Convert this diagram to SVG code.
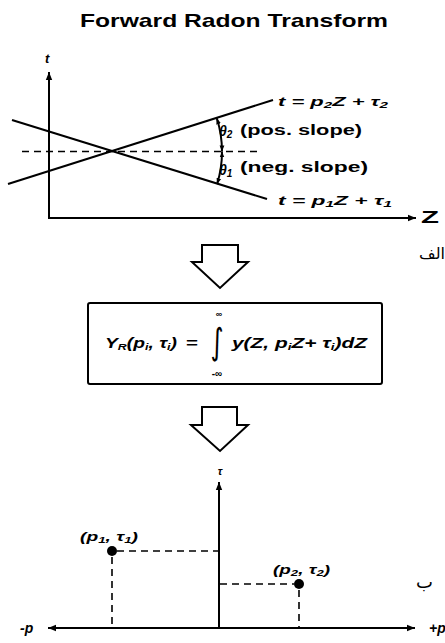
<svg xmlns="http://www.w3.org/2000/svg" width="445" height="643" viewBox="0 0 445 643">
<defs>
<style>
.ln{stroke:#000;stroke-width:2;fill:none}
.ds{stroke:#000;stroke-width:1.6;fill:none;stroke-dasharray:7 5}
.blk{fill:#fff;stroke:#000;stroke-width:2;stroke-linejoin:miter}
.t{font-family:"Liberation Sans",Arial,sans-serif;font-weight:bold;fill:#000}
.it{font-family:"Liberation Sans",Arial,sans-serif;font-weight:bold;font-style:italic;fill:#000}
.ar{font-family:"DejaVu Sans","Noto Sans",sans-serif;fill:#000}
</style>
<marker id="ah" viewBox="0 0 10 10" refX="10" refY="5" markerWidth="9" markerHeight="8" markerUnits="userSpaceOnUse" orient="auto-start-reverse">
<path d="M0,1 L10,5 L0,9 z" fill="#000"/>
</marker>
<marker id="sa" viewBox="0 0 10 10" refX="10" refY="5" markerWidth="6" markerHeight="6" markerUnits="userSpaceOnUse" orient="auto-start-reverse">
<path d="M0,1 L10,5 L0,9 z" fill="#000"/>
</marker>
</defs>
<rect width="445" height="643" fill="#fff"/>

<g id="title">
<text class="t" x="80" y="27" font-size="19" textLength="308" lengthAdjust="spacingAndGlyphs">Forward Radon Transform</text>
</g>

<g id="top-plot">
<g id="connectors-top">
<line class="ln" x1="49" y1="218" x2="49" y2="72" marker-end="url(#ah)"/>
<line class="ln" x1="48" y1="218" x2="416" y2="218" marker-end="url(#ah)"/>
<line class="ln" x1="12" y1="120" x2="267" y2="199"/>
<line class="ln" x1="8" y1="184" x2="273" y2="100"/>
<line class="ds" x1="22" y1="151.5" x2="262" y2="151.5"/>
<path class="ln" stroke-width="1.6" d="M222,151.5 A110 110 0 0 0 216.8,118.3" marker-start="url(#sa)" marker-end="url(#sa)"/>
<path class="ln" stroke-width="1.6" d="M222,151.5 A110 110 0 0 1 217.1,184.1" marker-start="url(#sa)" marker-end="url(#sa)"/>
</g>
<text class="it" x="45" y="63" font-size="13">t</text>
<text class="t" x="421" y="223" font-size="16" textLength="18" lengthAdjust="spacingAndGlyphs">Z</text>
<text class="it" x="278" y="106" font-size="13" textLength="110" lengthAdjust="spacingAndGlyphs">t = p<tspan font-size="9" dy="2">2</tspan><tspan dy="-2">Z + τ</tspan><tspan font-size="9" dy="2">2</tspan></text>
<text class="it" x="278" y="205" font-size="13" textLength="114" lengthAdjust="spacingAndGlyphs">t = p<tspan font-size="9" dy="2">1</tspan><tspan dy="-2">Z + τ</tspan><tspan font-size="9" dy="2">1</tspan></text>
<text class="it" x="219" y="136" font-size="14">θ<tspan font-size="10" dy="2">2</tspan></text>
<text class="it" x="219" y="175" font-size="14">θ<tspan font-size="10" dy="2">1</tspan></text>
<text class="t" x="240" y="135" font-size="14" textLength="122" lengthAdjust="spacingAndGlyphs">(pos. slope)</text>
<text class="t" x="240" y="172" font-size="14" textLength="128" lengthAdjust="spacingAndGlyphs">(neg. slope)</text>
</g>

<g id="arrow1">
<polygon class="blk" points="202,245 238,245 238,262 248,262 220,288 192,262 202,262"/>
<text class="ar" x="445" y="259" font-size="16" text-anchor="end">الف</text>
</g>

<g id="formula-box">
<rect class="ln" x="88" y="303" width="294" height="81" rx="2"/>
<text class="it" x="105" y="348" font-size="14" textLength="72" lengthAdjust="spacingAndGlyphs">Y<tspan font-size="9" dy="2">R</tspan><tspan dy="-2">(p</tspan><tspan font-size="9" dy="2">i</tspan><tspan dy="-2">, τ</tspan><tspan font-size="9" dy="2">i</tspan><tspan dy="-2">)</tspan></text>
<text class="t" x="186" y="348" font-size="15" textLength="12" lengthAdjust="spacingAndGlyphs">=</text>
<text class="t" x="219" y="317" font-size="9" text-anchor="middle">∞</text>
<text class="ar" x="217" y="354" font-size="36" text-anchor="middle" transform="translate(217 341) scale(0.7 1.0) translate(-217 -341)">∫</text>
<text class="t" x="217" y="377" font-size="10" text-anchor="middle">-∞</text>
<text class="it" x="232" y="348" font-size="14" textLength="135" lengthAdjust="spacingAndGlyphs">y(Z, p<tspan font-size="9" dy="2">i</tspan><tspan dy="-2">Z+ τ</tspan><tspan font-size="9" dy="2">i</tspan><tspan dy="-2">)dZ</tspan></text>
</g>

<g id="arrow2">
<polygon class="blk" points="202,407 237,407 237,425 248,425 220,451 191,425 202,425"/>
</g>

<g id="bottom-plot">
<g id="connectors-bottom">
<line class="ln" x1="219" y1="628" x2="219" y2="482" marker-end="url(#ah)"/>
<line class="ln" x1="48" y1="628" x2="415" y2="628" marker-start="url(#ah)" marker-end="url(#ah)"/>
<line class="ds" x1="117" y1="551" x2="218" y2="551"/>
<line class="ds" x1="112" y1="557" x2="112" y2="627"/>
<line class="ds" x1="220" y1="584" x2="294" y2="584"/>
<line class="ds" x1="299" y1="590" x2="299" y2="627"/>
</g>
<g id="point1">
<circle cx="112" cy="551" r="5" fill="#000"/>
<text class="it" x="80" y="541" font-size="13" textLength="58" lengthAdjust="spacingAndGlyphs">(p<tspan font-size="9" dy="2">1</tspan><tspan dy="-2">, τ</tspan><tspan font-size="9" dy="2">1</tspan><tspan dy="-2">)</tspan></text>
</g>
<g id="point2">
<circle cx="299" cy="584" r="5" fill="#000"/>
<text class="it" x="273" y="574" font-size="13" textLength="57" lengthAdjust="spacingAndGlyphs">(p<tspan font-size="9" dy="2">2</tspan><tspan dy="-2">, τ</tspan><tspan font-size="9" dy="2">2</tspan><tspan dy="-2">)</tspan></text>
</g>
<text class="it" x="220" y="475" font-size="11" text-anchor="middle">τ</text>
<text class="it" x="20" y="633" font-size="14">-p</text>
<text class="it" x="429" y="633" font-size="14">+p</text>
<text class="ar" x="416" y="588" font-size="18">ب</text>
</g>
</svg>
